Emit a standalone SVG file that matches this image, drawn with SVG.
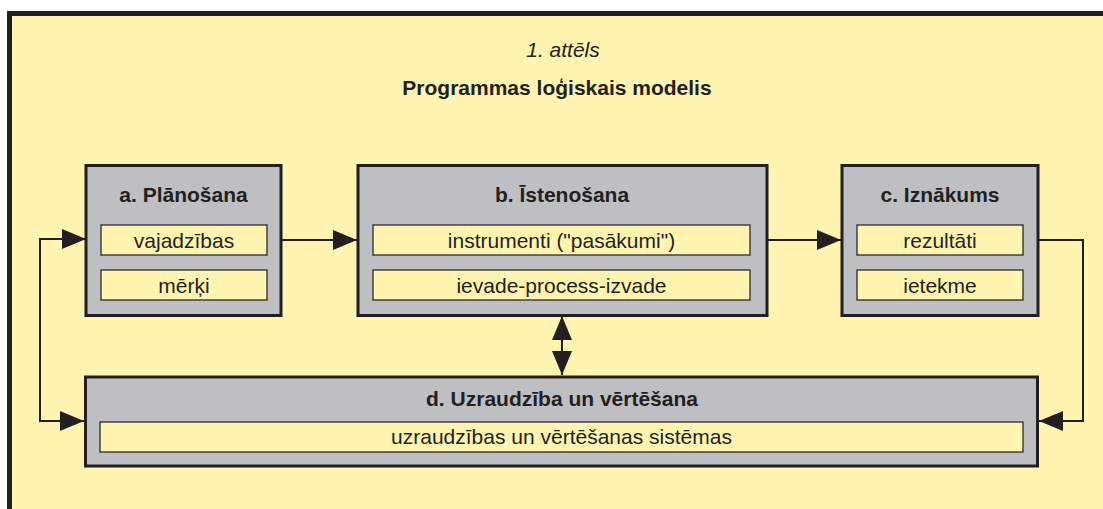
<svg xmlns="http://www.w3.org/2000/svg" width="1103" height="509" viewBox="0 0 1103 509">
  <defs>
    <style>
      .frame { fill: #fff5b0; stroke: #231f20; stroke-width: 5; }
      .node { fill: #bebfc3; stroke: #231f20; stroke-width: 3; }
      .item { fill: #fff5b0; stroke: #3a3638; stroke-width: 1.4; }
      .t { font-family: "Liberation Sans", Arial, sans-serif; fill: #231f20; text-anchor: middle; }
      .head { font-size: 21px; font-weight: bold; }
      .lbl { font-size: 21px; }
      .cap { font-size: 21px; font-style: italic; }
      .wire { fill: none; stroke: #231f20; stroke-width: 2; }
    </style>
    <marker id="arrow" markerUnits="userSpaceOnUse" markerWidth="24" markerHeight="20" refX="24" refY="10" orient="auto-start-reverse" viewBox="0 0 24 20">
      <path d="M0,0 L24,10 L0,20 Z" fill="#231f20"/>
    </marker>
  </defs>

  <rect width="1103" height="509" fill="#ffffff"/>
  <rect class="frame" x="9.5" y="13.5" width="1200" height="600"/>

  <!-- heading -->
  <text class="t cap" x="563" y="57">1. attēls</text>
  <text class="t head" x="557" y="94.5">Programmas loģiskais modelis</text>

  <!-- connectors -->
  <g id="connectors">
    <path class="wire" d="M282,240 H357" marker-end="url(#arrow)"/>
    <path class="wire" d="M768,240 H841" marker-end="url(#arrow)"/>
    <path class="wire" d="M1039,240 H1083 V421 H1039" marker-end="url(#arrow)"/>
    <path class="wire" d="M86,239 H40 V421 H84" marker-start="url(#arrow)" marker-end="url(#arrow)"/>
    <path class="wire" d="M562,316 V375" marker-start="url(#arrow)" marker-end="url(#arrow)"/>
  </g>

  <!-- a. planning -->
  <g id="node-a">
    <rect class="node" x="86" y="165.5" width="195" height="150"/>
    <text class="t head" x="183.5" y="202">a. Plānošana</text>
    <rect class="item" x="101" y="225" width="166" height="30"/>
    <text class="t lbl" x="184" y="247.5">vajadzības</text>
    <rect class="item" x="101" y="270" width="166" height="30"/>
    <text class="t lbl" x="184" y="292.5">mērķi</text>
  </g>

  <!-- b. implementation -->
  <g id="node-b">
    <rect class="node" x="358" y="165.5" width="409" height="150"/>
    <text class="t head" x="562" y="202">b. Īstenošana</text>
    <rect class="item" x="373" y="225" width="377" height="30"/>
    <text class="t lbl" x="561.5" y="247.5">instrumenti ("pasākumi")</text>
    <rect class="item" x="373" y="270" width="377" height="30"/>
    <text class="t lbl" x="561.5" y="292.5">ievade-process-izvade</text>
  </g>

  <!-- c. output -->
  <g id="node-c">
    <rect class="node" x="842" y="165.5" width="196" height="150"/>
    <text class="t head" x="940" y="202">c. Iznākums</text>
    <rect class="item" x="857" y="225" width="166" height="30"/>
    <text class="t lbl" x="940" y="247.5">rezultāti</text>
    <rect class="item" x="857" y="270" width="166" height="30"/>
    <text class="t lbl" x="940" y="292.5">ietekme</text>
  </g>

  <!-- d. monitoring and evaluation -->
  <g id="node-d">
    <rect class="node" x="85.5" y="377" width="952" height="89"/>
    <text class="t head" x="562" y="405.5">d. Uzraudzība un vērtēšana</text>
    <rect class="item" x="100" y="422" width="923" height="30"/>
    <text class="t lbl" x="561.5" y="444">uzraudzības un vērtēšanas sistēmas</text>
  </g>
</svg>
